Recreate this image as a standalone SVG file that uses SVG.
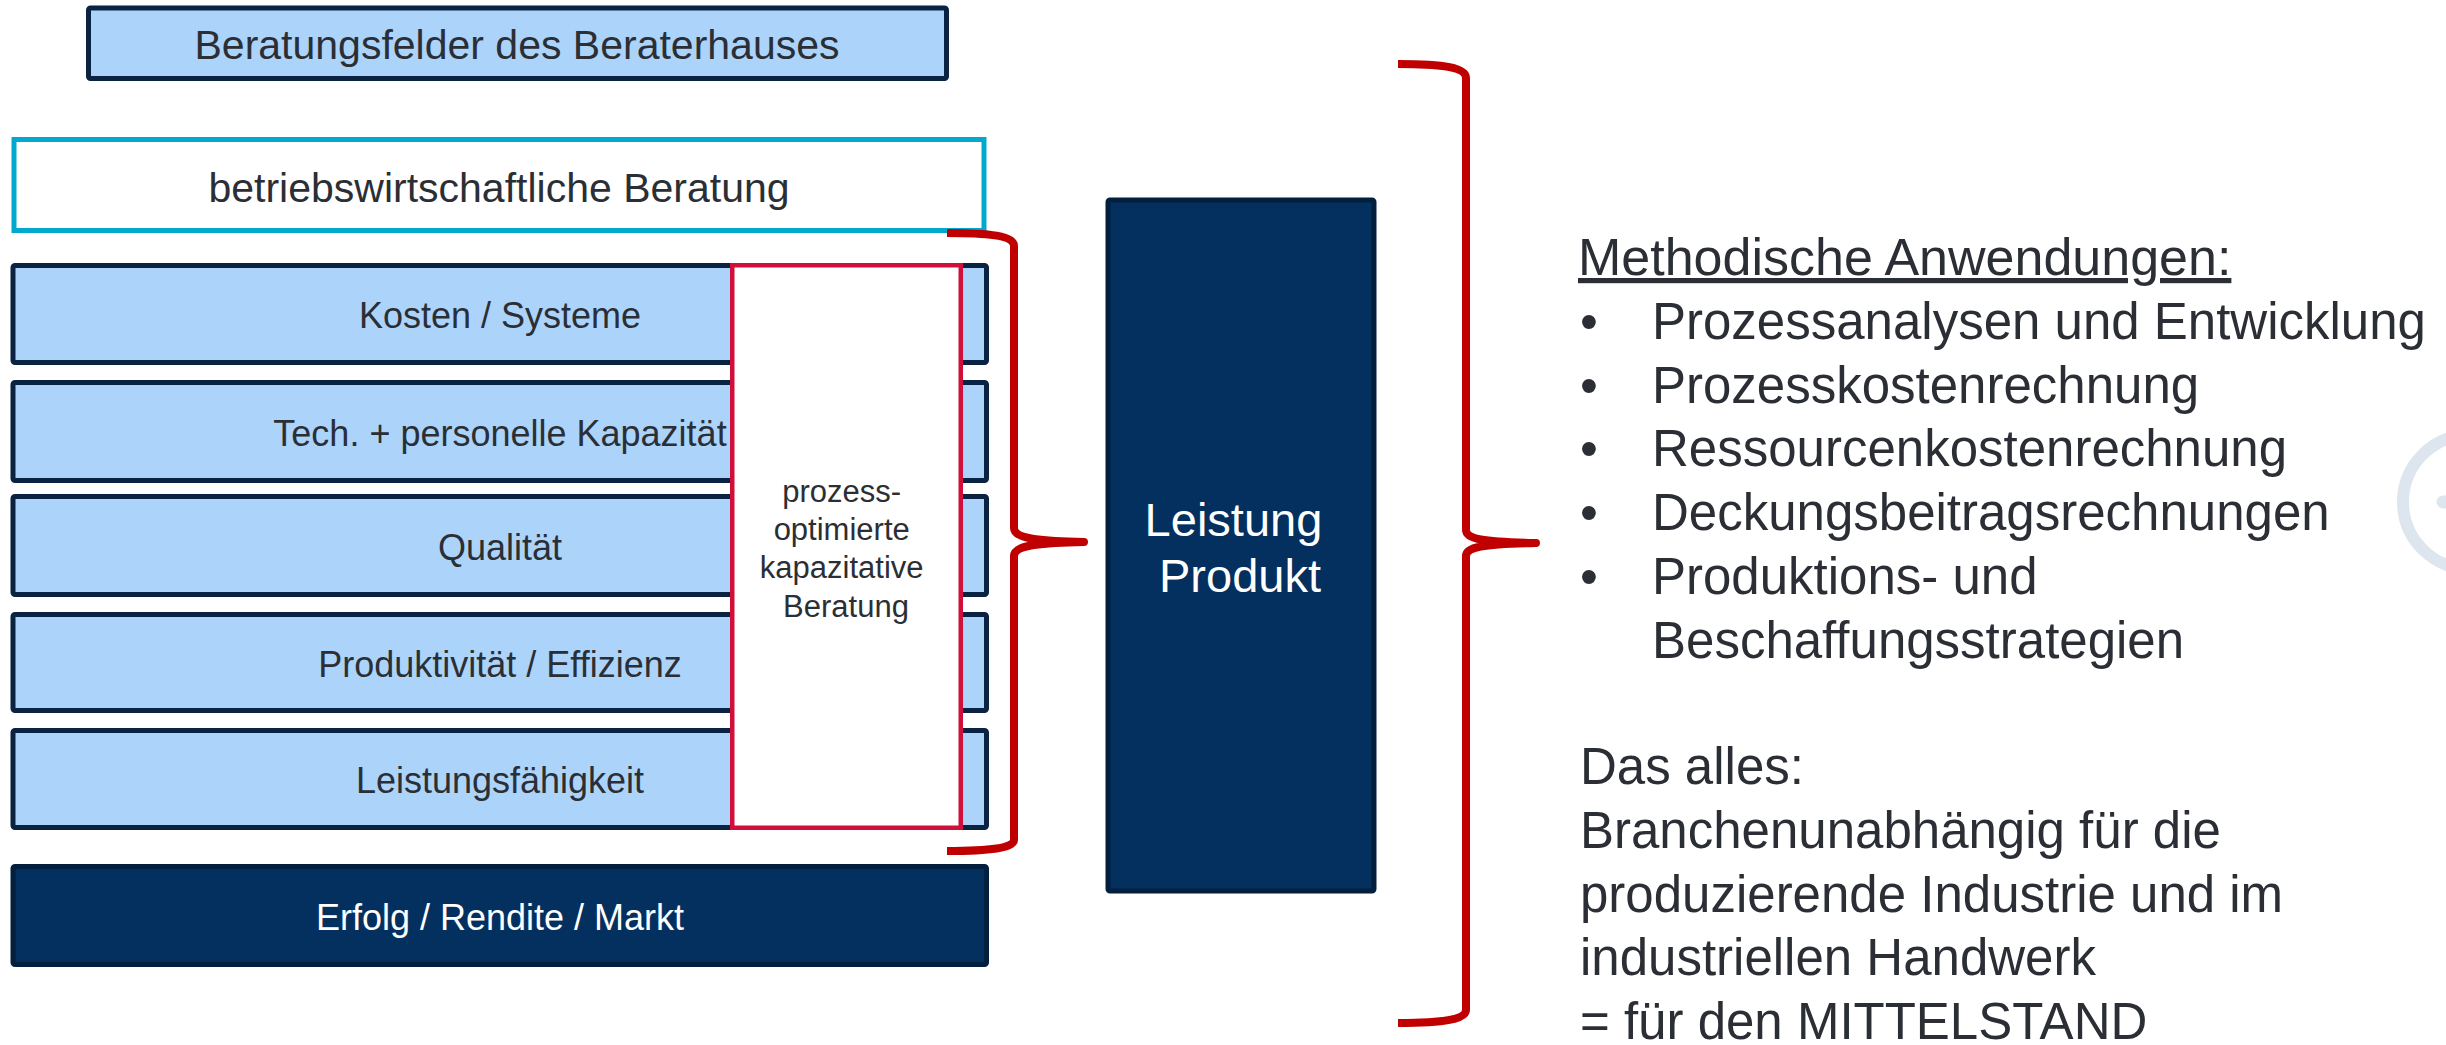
<svg xmlns="http://www.w3.org/2000/svg" width="2446" height="1045" viewBox="0 0 2446 1045">
  <style>
    .t { font-family: "Liberation Sans", Arial, sans-serif; fill: #2b2f35; }
    .c { text-anchor: middle; }
    .w { fill: #ffffff; }
    .lb { fill: #acd4fb; stroke: #0a2342; stroke-width: 5; }
    .dk { fill: #03305e; stroke: #021f3d; stroke-width: 5; }
    .br { fill: none; stroke: #c00000; stroke-width: 8; stroke-linejoin: round; stroke-linecap: butt; }
  </style>
  <rect x="0" y="0" width="2446" height="1045" fill="#ffffff"/>

  <g id="deko">
    <circle cx="2470" cy="502" r="67" fill="none" stroke="#dde5ee" stroke-width="12"/>
    <line x1="2443" y1="502" x2="2470" y2="502" stroke="#dde5ee" stroke-width="13" stroke-linecap="round"/>
  </g>

  <g id="beratungsfelder">
    <rect x="88.5" y="8" width="858" height="70.5" rx="2" class="lb"/>
    <text x="517" y="59" class="t c" font-size="41">Beratungsfelder des Beraterhauses</text>
  </g>

  <g id="betriebswirtschaftlich">
    <rect x="14" y="139.5" width="970" height="91" fill="#ffffff" stroke="#01a9ce" stroke-width="5"/>
    <text x="499" y="202" class="t c" font-size="41">betriebswirtschaftliche Beratung</text>
  </g>

  <g id="kosten">
    <rect x="13" y="265.5" width="973.5" height="97" rx="2" class="lb"/>
    <text x="500" y="328" class="t c" font-size="36">Kosten / Systeme</text>
  </g>
  <g id="kapazitaet">
    <rect x="13" y="382.5" width="973.5" height="98" rx="2" class="lb"/>
    <text x="500" y="446" class="t c" font-size="36">Tech. + personelle Kapazität</text>
  </g>
  <g id="qualitaet">
    <rect x="13" y="496.5" width="973.5" height="98" rx="2" class="lb"/>
    <text x="500" y="560" class="t c" font-size="36">Qualität</text>
  </g>
  <g id="produktivitaet">
    <rect x="13" y="614.5" width="973.5" height="96" rx="2" class="lb"/>
    <text x="500" y="677" class="t c" font-size="36">Produktivität / Effizienz</text>
  </g>
  <g id="leistungsfaehigkeit">
    <rect x="13" y="730.5" width="973.5" height="97" rx="2" class="lb"/>
    <text x="500" y="793" class="t c" font-size="36">Leistungsfähigkeit</text>
  </g>
  <g id="erfolg">
    <rect x="13" y="866.5" width="973.5" height="98" rx="2" class="dk"/>
    <text x="500" y="930" class="t c w" font-size="36">Erfolg / Rendite / Markt</text>
  </g>

  <g id="prozessoptimiert">
    <rect x="732.25" y="265.25" width="228.5" height="562.5" fill="#ffffff" stroke="#d0103a" stroke-width="4.5"/>
    <text class="t c" font-size="31">
      <tspan x="846" y="502">prozess-</tspan>
      <tspan x="846" y="540">optimierte</tspan>
      <tspan x="846" y="578">kapazitative</tspan>
      <tspan x="846" y="617">Beratung</tspan>
    </text>
  </g>

  <g id="leistung-produkt">
    <rect x="1108" y="200" width="266" height="691" rx="2" class="dk"/>
    <text class="t c w" font-size="47">
      <tspan x="1240" y="536">Leistung</tspan>
      <tspan x="1240" y="592">Produkt</tspan>
    </text>
  </g>

  <g id="connectors">
    <path class="br" d="M 947 233 C 990 233, 1014 236, 1014 246 L 1014 528 C 1014 537, 1030 541, 1084 542 C 1030 543, 1014 547, 1014 556 L 1014 840 C 1014 848, 990 851, 947 851"/>
    <path class="br" d="M 1398 64 C 1445 64, 1466 68, 1466 78 L 1466 530 C 1466 539, 1482 542, 1536 543 C 1482 544, 1466 547, 1466 556 L 1466 1010 C 1466 1019, 1445 1023, 1398 1023"/>
  </g>

  <g id="methoden">
    <text x="1578" y="275" class="t" font-size="52" text-decoration="underline">Methodische Anwendungen:</text>
    <text class="t" font-size="51">
      <tspan x="1580" y="338.8">•</tspan>
      <tspan x="1580" y="402.6">•</tspan>
      <tspan x="1580" y="466.4">•</tspan>
      <tspan x="1580" y="530.2">•</tspan>
      <tspan x="1580" y="594">•</tspan>
    </text>
    <text class="t" font-size="51">
      <tspan x="1652" y="338.8">Prozessanalysen und Entwicklung</tspan>
      <tspan x="1652" y="402.6">Prozesskostenrechnung</tspan>
      <tspan x="1652" y="466.4">Ressourcenkostenrechnung</tspan>
      <tspan x="1652" y="530.2">Deckungsbeitragsrechnungen</tspan>
      <tspan x="1652" y="594">Produktions- und</tspan>
      <tspan x="1652" y="657.8">Beschaffungsstrategien</tspan>
    </text>
  </g>

  <g id="zielgruppe">
    <text class="t" font-size="51">
      <tspan x="1580" y="784.4">Das alles:</tspan>
      <tspan x="1580" y="848">Branchenunabhängig für die</tspan>
      <tspan x="1580" y="911.6">produzierende Industrie und im</tspan>
      <tspan x="1580" y="975.2">industriellen Handwerk</tspan>
      <tspan x="1580" y="1038.8">= für den MITTELSTAND</tspan>
    </text>
  </g>
</svg>
